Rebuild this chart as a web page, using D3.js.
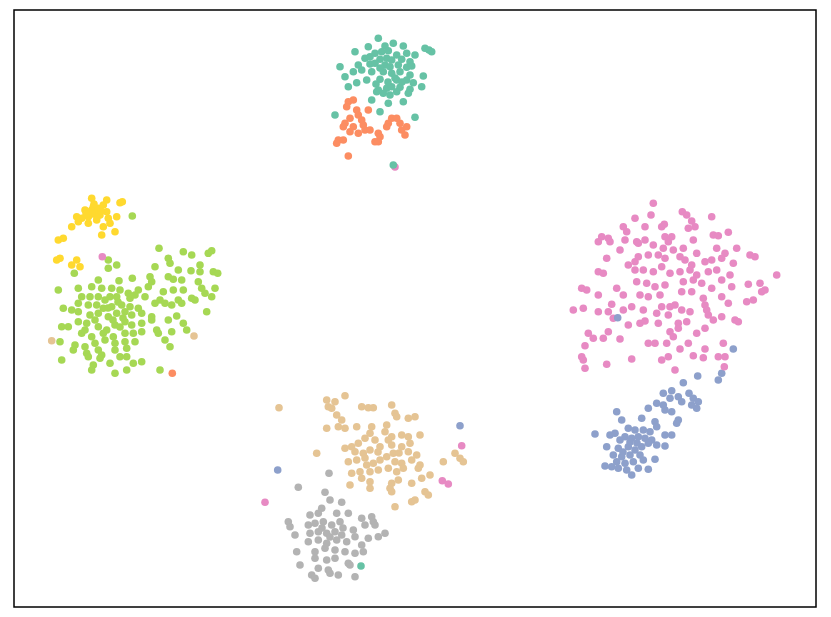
<!DOCTYPE html>
<html><head><meta charset="utf-8">
<script src="https://cdn.jsdelivr.net/npm/d3@7"></script>
<style>body{margin:0;background:#fff}</style>
</head><body>
<svg id="chart" width="831" height="617"></svg>
<script>
// Embedding coordinates (arbitrary units)
const categories = ["c0","c1","c2","c3","c4","c5","c6","c7"];
const colors = ["#66c2a5","#fc8d62","#8da0cb","#e78ac3","#a6d854","#ffd92f","#e5c494","#b3b3b3"];

const c0 = [[378.3,38.3],[368.3,46.7],[385,46],[393.3,43.3],[403.3,46],[425,48.3],[429,50],[431.7,51.7],[355,51.7],[375,53.3],[381.7,51.7],[388.3,50.7],[396.7,55],[406.7,53.3],[415,55],[365,58.3],[370,56.7],[380,59.3],[386.7,58.3],[391.7,60],[401.7,59.3],[410,61.7],[340,66.7],[358.3,65],[375,63.3],[385,65],[390,66.7],[398.3,65],[406.7,67.3],[411.7,66],[345,76.7],[353.3,71.7],[361.7,70],[371.7,71.7],[383.3,71.7],[391.7,73.3],[400,71.7],[410,75],[423.3,76],[348.3,86.7],[356.7,82.7],[366.7,80],[380,79.3],[396.7,80],[406.7,80],[413.3,82.7],[378.3,90],[386.7,88.3],[391.7,86.7],[400,87.3],[410,89.3],[421.7,86.7],[376.7,91.7],[383.3,93.3],[390,95],[396.7,91.7],[408.3,93.3],[371.7,100],[388.3,103.3],[403.3,101.7],[380,111.7],[335,115],[415,117.3],[380,68],[395,78],[388,82],[376,84],[402,82],[370,64]];
const c1 = [[348.3,101.7],[353.3,100],[346.7,106.7],[356.7,110],[358.3,115],[368.3,110],[350,118.3],[345,123.3],[361.7,120],[363.3,125],[343.3,126.7],[353.3,126.7],[365,130],[370,130],[350,131.7],[358.3,133.3],[378.3,133.3],[380,136.7],[375,141.7],[378.3,141.7],[391.7,118.3],[396.7,118.3],[388.3,123.3],[386.7,126.7],[400,123.3],[406.7,126.7],[401.7,130],[405,135],[338.3,140],[343.3,140],[336.7,143.3],[348.3,156]];
const c2 = [[721.7,373.3],[718.3,380],[697.7,376],[683.3,382.7],[663.3,393.3],[671.7,390.7],[670,398.3],[678.3,396.7],[681.7,401.7],[689,393.3],[693.3,398.3],[698.3,401.7],[696.7,408.3],[691.7,405],[648.3,408.3],[656.7,403.3],[663.3,405],[665,410],[671.7,411.7],[678.3,420],[676.7,423.3],[616.7,411.7],[621.7,420],[641.7,418.3],[655,421.7],[656.7,426.7],[628.3,428.3],[635,430],[643.3,430],[650,431.7],[665,435],[671.7,435],[595,434],[610,435],[615,433.3],[620,440],[625,436.7],[631.7,438.3],[638.3,436.7],[645,438.3],[651.7,440],[656.7,445],[665,446],[606.7,446.7],[618.3,448.3],[628.3,446.7],[635,450],[641.7,446.7],[648.3,443.3],[613.3,455],[621.7,456.7],[630,455],[640,455],[643.3,460],[655,459.3],[616.7,461.7],[625,463.3],[633.3,461.7],[605,466],[611.7,466.7],[618.3,468.3],[626.7,470],[638.3,468.3],[648.3,469.3],[631.7,475],[630,442],[637,443],[623,452]];
const c3 = [[653.3,203.3],[651,215],[635,218.3],[682.3,211.7],[686.7,215],[711.7,216.7],[691.7,221],[623.3,226.7],[626.7,231.7],[645,226.7],[661.7,226.7],[664.3,224.3],[688.3,228.3],[695,226.7],[601.7,236.7],[608.3,238.3],[598.3,241.7],[610,241.7],[625,240],[636.7,241.7],[645,240],[665,236.7],[671.7,236.7],[668.3,241.7],[693.3,240],[713.3,235],[718.3,235.7],[728.3,232.3],[620,250],[606.7,258.3],[638.3,243.3],[653.3,245],[663.3,248.3],[673.3,250],[683.3,248.3],[696.7,253.3],[716.7,248.3],[736.7,248.3],[725,253.3],[750,255],[755,256.7],[628.3,265],[635,261.7],[638.3,256.7],[648.3,255],[658.3,255],[665,258.3],[680,256.7],[685,260],[691.7,265],[705,261.7],[711.7,260],[721.7,258.3],[733.3,263.3],[598.3,271.7],[603.3,273.3],[635,270],[643.3,270],[653.3,271.7],[661.7,266.7],[670,273.3],[680,271.7],[690,270],[696.7,275],[708.3,271.7],[716.7,270],[730,275],[776.7,275],[581.7,288.3],[586.7,290],[616.7,288.3],[636.7,281.7],[646.7,283.3],[655,286.7],[665,285],[683.3,281.7],[693.3,280],[701.7,283.3],[711.7,288.3],[721.7,280],[731.7,286.7],[748.3,284.3],[760,283.3],[765,290],[761.7,291.7],[598.3,295],[623.3,295],[640,295],[648.3,296.7],[660,295],[681.7,291.7],[691.7,291.7],[703.3,298.3],[721.7,296.7],[746.7,301.7],[753.3,300],[573.3,310],[583.3,308.3],[598.3,311.7],[608.3,311.7],[611.7,304.3],[623.3,310],[631.7,306.7],[643.3,310],[656.7,313.3],[661.7,306.7],[670,306.7],[675,305],[681.7,310],[690,311.7],[705,305],[706.7,310],[728.3,303.3],[613.3,318.3],[628.3,325],[640,323.3],[645,321],[658.3,323.3],[668.3,315],[678.3,323.3],[686.7,321.7],[708.3,315],[713.3,320],[721.7,316.7],[735,320],[738.3,321.7],[588.3,333.3],[593.3,338.3],[603.3,338.3],[608.3,331.7],[620,339],[648.3,343.3],[655,343.3],[666.7,343.3],[670,331.7],[673.3,336.7],[678.3,328.3],[688.3,343.3],[696.7,333.3],[705,328.3],[723.3,343.3],[585,345.7],[581.7,356.7],[583.3,360],[585,368.3],[606.7,364.3],[631.7,359],[661.7,360],[668.3,356.7],[680,349],[693.3,355.7],[703.3,357.7],[705,349],[718.3,356.7],[725,356.7],[724.3,366.7],[675,370]];
const c4 = [[132.3,216],[159,248.3],[183.3,251.7],[191.7,255],[208.3,253.3],[211.7,250.7],[168.3,258.3],[170,263.3],[155,266.7],[200,265],[178.3,270],[191,270.7],[200,271.7],[213.3,271.7],[217.7,273.3],[108.3,260],[108.3,268.3],[116.7,265],[74.3,273.3],[98.3,280],[119,280.7],[132.3,278.3],[150,276.7],[151.7,281.7],[168.3,276.7],[173.3,279.3],[181.7,280],[198.3,281.7],[58.3,290],[78.3,288.3],[91.7,286.7],[101.7,288.3],[111.7,288.3],[120,290],[128.3,293.3],[138.3,290],[148.3,286.7],[163.3,291.7],[173.3,290],[183.3,290],[201.7,288.3],[215,288.3],[81.7,296.7],[90,296.7],[98.3,296.7],[110,296.7],[116.7,296.7],[130,298.3],[135,295],[145,296.7],[160,300],[165,303.3],[178.3,300],[191.7,298.3],[205,293.3],[211.7,296.7],[63.3,308.3],[71.7,310],[78.3,303.3],[88.3,305],[96.7,305],[103.3,308.3],[111.7,306.7],[121.7,305],[130,306.7],[138.3,308.3],[155,303.3],[171.7,305],[181.7,303.3],[195,300],[78.3,311.7],[90,315],[98.3,313.3],[108.3,316.7],[116.7,313.3],[125,311.7],[131.7,315],[141.7,313.3],[151.7,316.7],[168.3,320],[176.7,316],[206.7,311.7],[61.7,326.7],[68.3,326.7],[78.3,321.7],[86.7,323.3],[98.3,326.7],[106.7,330],[115,325],[125,321.7],[131.7,325],[141.7,323.3],[151.7,320],[183.3,323.3],[186.7,330],[81.7,333.3],[91.7,336.7],[103.3,333.3],[113.3,336.7],[125,333.3],[133.3,333.3],[141.7,331.7],[156.7,330],[158.3,333.3],[171.7,331.7],[165,340],[60,341.7],[75,345],[85,346.7],[95,343.3],[105,340],[115,343.3],[125,341.7],[135,341.7],[170,346.7],[73.3,350],[86.7,353.3],[98.3,350],[101.7,355],[115,350],[126.7,348.3],[61.7,360],[88.3,356.7],[100,358.3],[110,363.3],[120,356.7],[126.7,356.7],[133.3,363.3],[141.7,361.7],[93.3,365],[91.7,370],[115,373.3],[126.7,370],[160,370],[105,300],[118,302],[113,320],[95,320],[123,318],[108,308],[85,330],[120,327]];
const c5 = [[91.7,198.3],[106.7,200],[120,202.7],[122.3,201.7],[85,210],[91.7,210],[93.3,206.7],[98.3,208.3],[103.3,205],[95,213.3],[100,215],[106.7,211.7],[88.3,216.7],[81.7,218.3],[76.7,216.7],[96.7,220],[108.3,218.3],[116.7,216.7],[78.3,221.7],[71.7,226.7],[88.3,223.3],[110,223.3],[103.3,226.7],[115,231.7],[101.7,235],[58.3,240],[63.3,238.3],[56.7,260],[60,258.3],[71.7,265],[76.7,260],[80,266.7],[89,212],[97,217],[92,214],[101,211],[94,204],[86,214]];
const c6 = [[279,407.7],[345,395.7],[326.7,400],[335,401.7],[328.3,406.7],[331.7,408.3],[336.7,415],[341.7,420],[345,428.3],[326.7,428.3],[338.3,426.7],[361.7,406.7],[368.3,407.7],[373.3,407.7],[391.7,405],[395,413.3],[396.7,416.7],[408.3,418.3],[415,416.7],[356.7,426.7],[371.7,426.7],[370,433.3],[386.7,425],[385,431.7],[391.7,436.7],[401.7,435],[408.3,436.7],[420,435],[388.3,440],[316.7,453.3],[345,448.3],[351.7,446.7],[358.3,443.3],[365,438.3],[375,440],[380,446.7],[355,451.7],[363.3,453.3],[370,450],[391.7,445],[401.7,446.7],[410,443.3],[408.3,451.7],[416.7,455],[393.3,453.3],[348.3,461.7],[356.7,460],[366.7,465],[373.3,463.3],[380,460],[386.7,456.7],[395,461.7],[401.7,463.3],[411.7,460],[420,465],[351.7,473.3],[360,471.7],[370,471.7],[378.3,470],[388.3,468.3],[396.7,471.7],[403.3,468.3],[418.3,468.3],[430,475],[443.3,461.7],[455,453.3],[460,458.3],[463.3,461.7],[361.7,478.3],[370,481.7],[350,485],[391.7,483.3],[398.3,480],[411.7,483.3],[421.7,478.3],[370,488.3],[390,488.3],[391.7,491.7],[425,491.7],[428.3,495],[411.7,501.7],[415,500],[395,506.7],[365,458],[378,452],[399,453]];
const c7 = [[329,473.3],[298.3,487.3],[325,492.3],[330,500],[341.7,502.3],[321.7,508.3],[310,515],[318.3,513.3],[336.7,513.3],[348.3,513.3],[361.7,518.3],[371.7,516.7],[373.3,521.7],[288.3,521.7],[290,526.7],[308.3,525],[315,523.3],[323.3,521.7],[331.7,525],[340,521.7],[353.3,530],[365,525],[375,525],[385,533.3],[295,535],[310,533.3],[318.3,531.7],[326.7,533.3],[335,531.7],[341.7,535],[355,536.7],[368.3,538.3],[378.3,536.7],[308.3,541.7],[318.3,540],[326.7,543.3],[336.7,540],[346.7,541.7],[361.7,545],[296.7,551.7],[315,551.7],[325,548.3],[335,550],[345,551.7],[363.3,551.7],[300,565],[315,558.3],[326.7,560],[335,558.3],[348.3,563.3],[355,553.3],[318.3,568.3],[328.3,570],[338.3,575],[350,565],[311.7,575],[315,578.3],[330,573.3],[355,576.7],[322,528],[330,537],[343,528]];

// points whose label differs from their neighbours: [x, y, category index]
const outliers = [[395,167,3],[393.3,165,0],[172.3,373.3,1],[102.3,256.7,3],[51.7,340.7,6],[194,336,6],[617.7,317.7,2],[733.3,349,2],[461.7,445.7,3],[442.3,480.7,3],[448.3,484,3],[265,502.3,3],[460,425.7,2],[277.7,470,2],[361,566,0]];

const xExtent = [14, 816];
const yExtent = [10, 607];

const svg = d3.select("#chart");
const x = d3.scaleLinear().domain(xExtent).range([14, 816]);
const y = d3.scaleLinear().domain(yExtent).range([10, 607]);

const groups = [c0,c1,c2,c3,c4,c5,c6,c7];
const pts = [];
groups.forEach((g,i)=>g.forEach(p=>pts.push({x:p[0],y:p[1],c:i})));
outliers.forEach(p=>pts.push({x:p[0],y:p[1],c:p[2]}));

svg.append("g").selectAll("circle").data(pts).join("circle")
  .attr("cx", d=>x(d.x)).attr("cy", d=>y(d.y)).attr("r", 3.8)
  .attr("fill", d=>colors[d.c]);

svg.append("rect").attr("x", x(xExtent[0])).attr("y", y(yExtent[0]))
  .attr("width", x(xExtent[1]) - x(xExtent[0])).attr("height", y(yExtent[1]) - y(yExtent[0]))
  .attr("fill","none").attr("stroke","#000").attr("stroke-width",1.5);
</script>
</body></html>
